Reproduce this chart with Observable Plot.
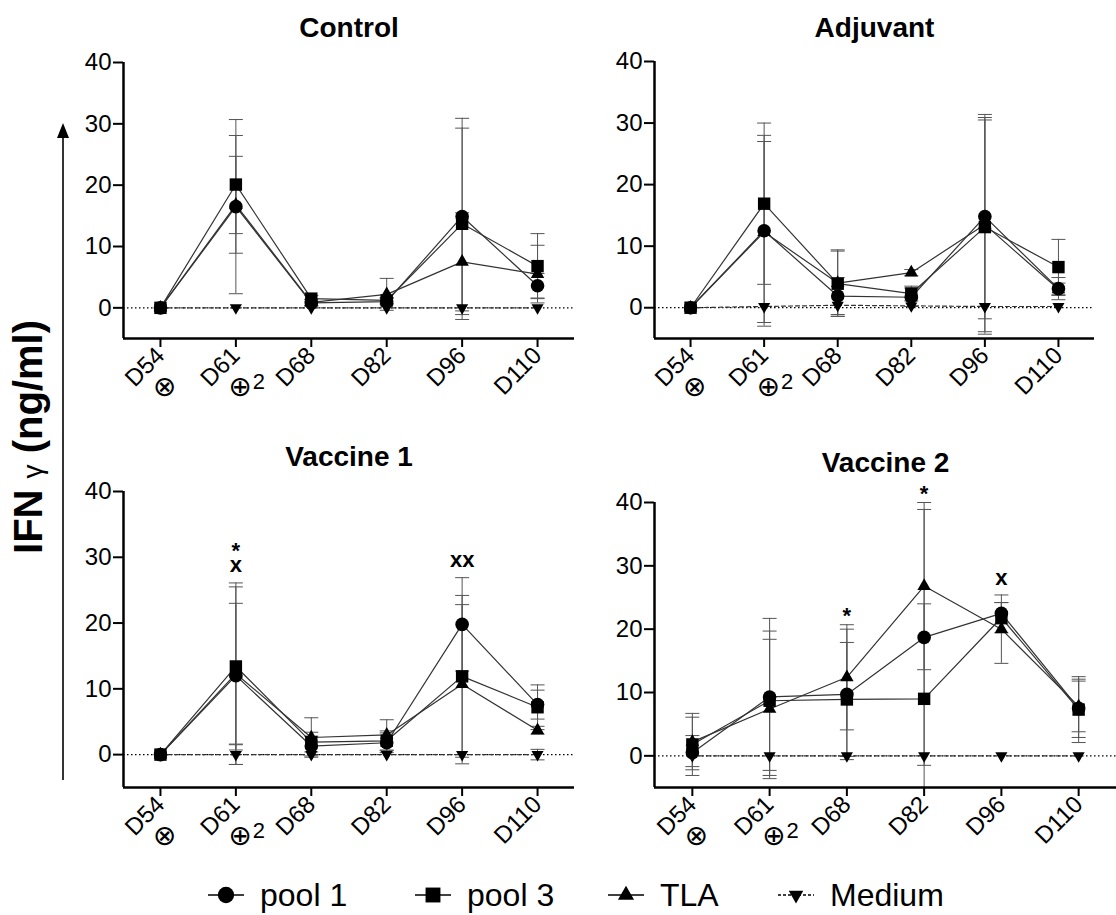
<!DOCTYPE html>
<html>
<head>
<meta charset="utf-8">
<script src="https://cdn.jsdelivr.net/npm/d3@7"></script>
<script src="https://cdn.jsdelivr.net/npm/@observablehq/plot@0.6"></script>
<style>
  html, body { margin: 0; padding: 0; background: #fff; }
  #root { position: relative; width: 1116px; height: 915px; overflow: hidden;
          font-family: "Liberation Sans", Arial, sans-serif; color: #000; }
  .panel { position: absolute; }
  .panel svg { overflow: visible; }
  #ylab { position: absolute; left: 28px; top: 437px; transform: translate(-50%, -50%) rotate(-90deg);
          white-space: nowrap; font-weight: bold; font-size: 40px; line-height: 1; }
  #ylab .g { font-weight: normal; font-size: 28px; }
  #arrow { position: absolute; left: 0; top: 0; }
  #legend { position: absolute; left: 208px; top: 879px; height: 32px; display: flex; align-items: center;
            font-size: 32px; line-height: 32px; }
  #legend .item { display: flex; align-items: center; }
  #legend .item:nth-child(1) { width: 207px; }
  #legend .item:nth-child(2) { width: 193px; }
  #legend .item:nth-child(3) { width: 170px; }
  #legend svg { margin-right: 16px; }
</style>
</head>
<body>
<div id="root">
  <svg id="arrow" width="100" height="800">
    <line x1="63" x2="63" y1="136" y2="780" stroke="#000" stroke-width="1.6"></line>
    <polygon points="63,123 57,138 69,138" fill="#000"></polygon>
  </svg>
  <div id="ylab">IFN <span class="g">γ</span> (ng/ml)</div>
  <div id="legend"></div>
</div>
<script>
// ---------- data ----------
const days = ["D54", "D61", "D68", "D82", "D96", "D110"];
const seriesNames = ["pool 1", "pool 3", "TLA", "Medium"];
const yTicks = [0, 10, 20, 30, 40];
const panelTitles = ["Control", "Adjuvant", "Vaccine 1", "Vaccine 2"];

// rows: pool 1, pool 3, TLA, Medium ; columns follow days
const controlMeans = [
  [0, 16.5, 0.8, 1.0, 14.9, 3.6],
  [0, 20.1, 1.5, 1.2, 13.7, 6.8],
  [0, 16.8, 0.9, 2.2, 7.5, 5.5],
  [0, 0, 0, 0, 0, 0]
];
const controlSds = [
  [0, 14.2, 0.5, 0.5, 16.0, 2.0],
  [0, 8.0, 0.5, 0.5, 15.6, 5.3],
  [0, 7.9, 0.5, 2.6, 8.0, 4.7],
  [0, 0, 0, 0, 0, 0]
];
const adjuvantMeans = [
  [0, 12.5, 1.9, 1.7, 14.8, 3.1],
  [0, 16.9, 3.9, 2.3, 13.1, 6.6],
  [0, 12.3, 4.0, 5.7, 13.5, 3.0],
  [0, 0.2, 0.4, 0.3, 0.2, 0.2]
];
const adjuvantSds = [
  [0, 15.5, 3.0, 1.5, 16.6, 1.8],
  [0, 13.1, 5.3, 1.2, 17.4, 4.5],
  [0, 14.7, 5.4, 0.5, 17.4, 1.0],
  [0, 0, 0, 0, 0, 0]
];
const vaccine1Means = [
  [0, 12.0, 1.3, 1.8, 19.8, 7.6],
  [0, 13.4, 1.9, 2.1, 11.9, 7.2],
  [0, 12.3, 2.6, 3.0, 10.7, 3.7],
  [0, 0, 0, 0, 0, 0]
];
const vaccine1Sds = [
  [0, 13.5, 1.5, 1.5, 7.1, 2.2],
  [0, 12.7, 1.5, 1.5, 12.3, 3.4],
  [0, 10.7, 3.0, 2.3, 12.1, 0.6],
  [0, 1.5, 0, 0, 0, 0.8]
];
const vaccine2Means = [
  [0.5, 9.3, 9.7, 18.7, 22.5, 7.5],
  [1.8, 8.7, 8.9, 9.0, 21.8, 7.3],
  [2.2, 7.4, 12.4, 26.8, 20.0, 7.8],
  [0, 0, 0, 0, 0, 0]
];
const vaccine2Sds = [
  [2.7, 12.4, 10.3, 20.2, 1.7, 4.6],
  [4.9, 11.0, 9.0, 15.0, 2.4, 5.2],
  [3.9, 11.0, 8.3, 13.2, 5.4, 4.0],
  [0, 0, 0, 0, 0, 0]
];

// significance marks (day, value position, label)
const vaccine1Signif = [
  {day: "D61", y: 29.5, label: "*\nx"},
  {day: "D96", y: 29.2, label: "xx"}
];
const vaccine2Signif = [
  {day: "D68", y: 21.6, label: "*"},
  {day: "D82", y: 41.0, label: "*"},
  {day: "D96", y: 27.7, label: "x"}
];
const doseMarks = [
  {day: "D54", sym: "⊗", sup: ""},
  {day: "D61", sym: "⊕", sup: "2"}
];

// ---------- drawing ----------
const triangleDown = {
  draw(ctx, size) {
    const y = Math.sqrt(size / (3 * Math.sqrt(3)));
    ctx.moveTo(0, 2 * y);
    ctx.lineTo(-Math.sqrt(3) * y, -y);
    ctx.lineTo(Math.sqrt(3) * y, -y);
    ctx.closePath();
  }
};
const capSymbol = { draw(ctx) { ctx.moveTo(-7, 0); ctx.lineTo(7, 0); } };
const symbols = [d3.symbolCircle, d3.symbolSquare, d3.symbolTriangle, triangleDown];
const radii = [6.8, 7.0, 5.0, 4.5];

const panels = [
  {title: panelTitles[0], means: controlMeans, sds: controlSds, signif: [],
   left: 0, top: 0, width: 580, height: 420, ml: 123, mr: 6, mt: 62, mb: 82, titleDy: -34},
  {title: panelTitles[1], means: adjuvantMeans, sds: adjuvantSds, signif: [],
   left: 560, top: 0, width: 556, height: 420, ml: 94, mr: 22, mt: 61, mb: 82, titleDy: -33},
  {title: panelTitles[2], means: vaccine1Means, sds: vaccine1Sds, signif: vaccine1Signif,
   left: 0, top: 420, width: 580, height: 430, ml: 123, mr: 6, mt: 71, mb: 63, titleDy: -34},
  {title: panelTitles[3], means: vaccine2Means, sds: vaccine2Sds, signif: vaccine2Signif,
   left: 560, top: 420, width: 556, height: 430, ml: 94, mr: 0, mt: 82, mb: 63, titleDy: -39}
];

const root = document.getElementById("root");
const dayIndex = d => days.indexOf(d);

panels.forEach(p => {
  const rows = [];
  seriesNames.forEach((s, k) => days.forEach((d, i) => {
    const v = p.means[k][i], sd = p.sds[k][i];
    rows.push({series: s, k, i, v, sd, lo: v - sd, hi: v + sd});
  }));
  const bars = rows.filter(r => r.sd > 0);
  const caps = [];
  bars.forEach(r => {
    caps.push({i: r.i, y: r.hi});
    if (r.lo >= -5) caps.push({i: r.i, y: r.lo});
  });

  const marks = [
    Plot.ruleY([0], {stroke: "#000", strokeWidth: 1.2, strokeDasharray: "1.5,2.5"}),
    Plot.ruleX(bars, {x: "i", y1: "lo", y2: "hi", stroke: "#555", strokeWidth: 1, clip: true}),
    Plot.dot(caps, {x: "i", y: "y", symbol: capSymbol, r: 5, stroke: "#555", strokeWidth: 1, fill: "none"})
  ];
  seriesNames.forEach((s, k) => {
    const data = rows.filter(r => r.k === k);
    marks.push(Plot.line(data, {x: "i", y: "v", stroke: "#333", strokeWidth: 1.2,
      strokeDasharray: k === 3 ? "4,3" : null}));
  });
  seriesNames.forEach((s, k) => {
    const data = rows.filter(r => r.k === k);
    marks.push(Plot.dot(data, {x: "i", y: "v", symbol: symbols[k], r: radii[k], fill: "#000", stroke: "none"}));
  });
  // axes
  marks.push(
    Plot.ruleX([-0.49], {y1: -5, y2: 40, stroke: "#000", strokeWidth: 2.5}),
    Plot.ruleY([-5], {stroke: "#000", strokeWidth: 2.5}),
    Plot.axisY({ticks: yTicks, label: null, tickSize: 10, tickPadding: 2, fontSize: 24, strokeWidth: 2,
      tickFormat: d => String(d)}),
    Plot.axisX({ticks: d3.range(days.length), label: null, tickFormat: i => days[i], tickRotate: -45,
      tickSize: 9, tickPadding: 4, fontSize: 24, strokeWidth: 2}),
    Plot.text(doseMarks, {x: d => dayIndex(d.day), text: "sym", frameAnchor: "bottom", lineAnchor: "middle",
      dx: 4, dy: 49, fontSize: 28, fontFamily: "DejaVu Sans"}),
    Plot.text(doseMarks, {x: d => dayIndex(d.day), text: "sup", frameAnchor: "bottom", lineAnchor: "middle",
      dx: 23, dy: 43, fontSize: 22}),
    Plot.text([p.title], {frameAnchor: "top", lineAnchor: "middle", dy: p.titleDy, fontSize: 28, fontWeight: "bold"}),
    Plot.text(p.signif, {x: d => dayIndex(d.day), y: "y", text: "label", lineAnchor: "middle",
      lineHeight: 0.62, fontSize: 22, fontWeight: "bold"})
  );

  const chart = Plot.plot({
    width: p.width, height: p.height,
    marginLeft: p.ml, marginRight: p.mr, marginTop: p.mt, marginBottom: p.mb,
    x: {type: "linear", domain: [-0.49, days.length - 1 + 0.49]},
    y: {domain: [-5, 40]},
    style: {fontFamily: '"Liberation Sans", Arial, sans-serif', color: "#000", background: "transparent", overflow: "visible"},
    marks
  });
  const div = document.createElement("div");
  div.className = "panel";
  div.style.left = p.left + "px";
  div.style.top = p.top + "px";
  div.appendChild(chart);
  root.appendChild(div);
});

// legend
const legend = document.getElementById("legend");
seriesNames.forEach((s, k) => {
  const item = document.createElement("div");
  item.className = "item";
  const path = d3.symbol(symbols[k], Math.PI * Math.pow(radii[k] * 1.2, 2))();
  item.innerHTML =
    `<svg width="36" height="24"><line x1="0" x2="36" y1="12" y2="12" stroke="#000" stroke-width="1.3"` +
    (k === 3 ? ` stroke-dasharray="3,2"` : ``) + `></line>` +
    `<path transform="translate(18,12)" d="${path}" fill="#000"></path></svg><span>${s}</span>`;
  legend.appendChild(item);
});
</script>
</body>
</html>
